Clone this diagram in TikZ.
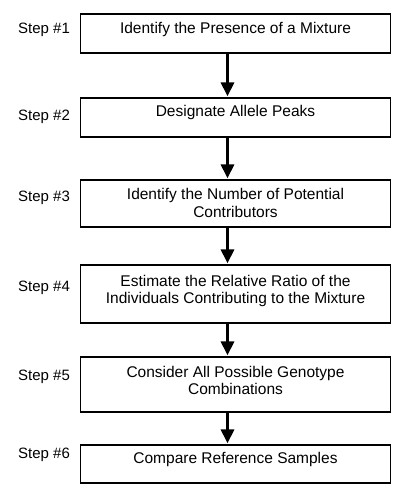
\documentclass[tikz,border=0pt]{standalone}
\usepackage{fontspec}
\setmainfont{Liberation Sans}
\usetikzlibrary{arrows.meta}

\tikzset{
  stepbox/.style={draw, line width=1.2pt, minimum width=310.5pt, inner sep=0pt},
  steptext/.style={align=center, inner sep=0pt, font=\fontsize{15.5}{17.8}\selectfont},
  steplabel/.style={anchor=west, inner sep=0pt, font=\fontsize{15}{17.5}\selectfont},
  flow/.style={line width=3pt, -{Triangle[length=14pt,width=13pt]}, shorten >=1pt}
}

\begin{document}
\begin{tikzpicture}[x=1pt,y=-1pt]
  \useasboundingbox (0,0) rectangle (405,495);

  % boxes
  \node[stepbox, minimum height=39pt] (b1) at (235.5,33.5) {};
  \node[stepbox, minimum height=39pt] (b2) at (235.5,117.5) {};
  \node[stepbox, minimum height=47pt] (b3) at (235.5,203.5) {};
  \node[stepbox, minimum height=58pt] (b4) at (235.5,294) {};
  \node[stepbox, minimum height=55pt] (b5) at (235.5,384.5) {};
  \node[stepbox, minimum height=38pt] (b6) at (235.5,464) {};

  % box texts
  \node[steptext] (t1) at (235.5,29) {Identify the Presence of a Mixture};
  \node[steptext] (t2) at (235.5,112.5) {Designate Allele Peaks};
  \node[steptext] (t3) at (235.5,203) {Identify the Number of Potential\\Contributors};
  \node[steptext] (t4) at (235.5,291) {Estimate the Relative Ratio of the\\Individuals Contributing to the Mixture};
  \node[steptext] (t5) at (235.5,380.5) {Consider All Possible Genotype\\Combinations};
  \node[steptext] (t6) at (235.5,459) {Compare Reference Samples};

  % step labels
  \node[steplabel] (l1) at (18,30) {Step \#1};
  \node[steplabel] (l2) at (18,117) {Step \#2};
  \node[steplabel] (l3) at (18,198) {Step \#3};
  \node[steplabel] (l4) at (18,288.3) {Step \#4};
  \node[steplabel] (l5) at (18,376.7) {Step \#5};
  \node[steplabel] (l6) at (18,455) {Step \#6};

  % arrows
  \draw[flow] ([xshift=-8pt]b1.south) -- ([xshift=-8pt]b2.north);
  \draw[flow] ([xshift=-8pt]b2.south) -- ([xshift=-8pt]b3.north);
  \draw[flow] ([xshift=-8pt]b3.south) -- ([xshift=-8pt]b4.north);
  \draw[flow] ([xshift=-8pt]b4.south) -- ([xshift=-8pt]b5.north);
  \draw[flow] ([xshift=-8pt]b5.south) -- ([xshift=-8pt]b6.north);
\end{tikzpicture}
\end{document}
